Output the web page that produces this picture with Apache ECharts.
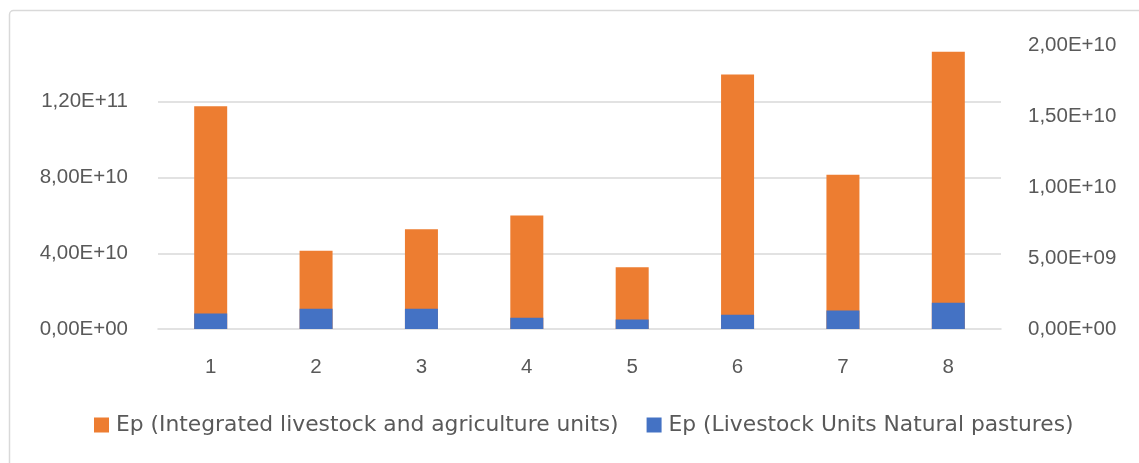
<!DOCTYPE html>
<html>
<head>
<meta charset="utf-8">
<script src="https://cdn.jsdelivr.net/npm/echarts@6/dist/echarts.min.js"></script>
<style>
  html, body { margin: 0; padding: 0; background: #ffffff; }
  #chart { width: 1139px; height: 463px; }
</style>
</head>
<body>
<div id="chart"></div>
<script>
// Categories on the x axis
const categories = ['1', '2', '3', '4', '5', '6', '7', '8'];

// Ep of integrated livestock and agriculture units (left axis)
const integratedUnits = [1.176e11, 4.13e10, 5.27e10, 5.99e10, 3.26e10, 1.344e11, 8.15e10, 1.464e11];

// Ep of livestock units on natural pastures (right axis)
const naturalPastures = [1.10e9, 1.43e9, 1.43e9, 0.79e9, 0.67e9, 1.00e9, 1.31e9, 1.85e9];

const seriesNames = [
  'Ep (Integrated livestock and agriculture units)',
  'Ep (Livestock Units Natural pastures)'
];

// Axis ranges
const leftAxisMax = 1.5e11, leftAxisStep = 4e10;
const rightAxisMax = 2e10, rightAxisStep = 5e9;

// Scientific notation with a decimal comma, e.g. 1,20E+11
function sci(v) {
  const s = Number(v).toExponential(2);
  const m = s.match(/^(-?\d)\.(\d+)e([+-])(\d+)$/);
  if (!m) return s;
  const exp = m[4].length < 2 ? '0' + m[4] : m[4];
  return m[1] + ',' + m[2] + 'E' + m[3] + exp;
}

const axisFont = 'Liberation Sans';
const legendFont = 'DejaVu Sans';
const textColor = '#595959';
const gridColor = '#d9d9d9';

const chart = echarts.init(document.getElementById('chart'), null, { renderer: 'canvas' });

chart.setOption({
  backgroundColor: '#ffffff',
  animation: false,
  graphic: [{
    type: 'rect',
    shape: { x: 9.5, y: 10.5, width: 1200, height: 500, r: 4 },
    style: { fill: 'none', stroke: gridColor, lineWidth: 1.5 },
    silent: true,
    z: -10
  }],
  grid: { left: 158, right: 138, top: 45, bottom: 134, containLabel: false },
  legend: {
    left: 89,
    top: 409,
    itemWidth: 15,
    itemHeight: 15,
    itemGap: 28,
    icon: 'rect',
    textStyle: { fontFamily: legendFont, fontSize: 21.8, color: textColor, padding: [0, 0, 0, 2] },
    data: seriesNames
  },
  xAxis: {
    type: 'category',
    data: categories,
    axisLine: { show: true, lineStyle: { color: gridColor, width: 1.5 } },
    axisTick: { show: false },
    axisLabel: { fontFamily: axisFont, fontSize: 20.5, color: textColor, margin: 28 },
    splitLine: { show: false }
  },
  yAxis: [{
    type: 'value',
    min: 0,
    max: leftAxisMax,
    interval: leftAxisStep,
    position: 'left',
    axisLine: { show: false },
    axisTick: { show: false },
    axisLabel: {
      fontFamily: axisFont, fontSize: 20.5, color: textColor, margin: 30,
      showMaxLabel: false,
      formatter: sci
    },
    splitLine: {
      show: true,
      showMinLine: false,
      showMaxLine: false,
      lineStyle: { color: gridColor, width: 1.5 }
    }
  }, {
    type: 'value',
    min: 0,
    max: rightAxisMax,
    interval: rightAxisStep,
    position: 'right',
    axisLine: { show: false },
    axisTick: { show: false },
    axisLabel: { fontFamily: axisFont, fontSize: 20.5, color: textColor, margin: 27, formatter: sci },
    splitLine: { show: false }
  }],
  series: [{
    name: seriesNames[0],
    type: 'bar',
    yAxisIndex: 0,
    data: integratedUnits,
    barWidth: 33,
    barGap: '-100%',
    itemStyle: { color: '#ED7D31' }
  }, {
    name: seriesNames[1],
    type: 'bar',
    yAxisIndex: 1,
    data: naturalPastures,
    barWidth: 33,
    barGap: '-100%',
    itemStyle: { color: '#4472C4' }
  }]
});
</script>
</body>
</html>
